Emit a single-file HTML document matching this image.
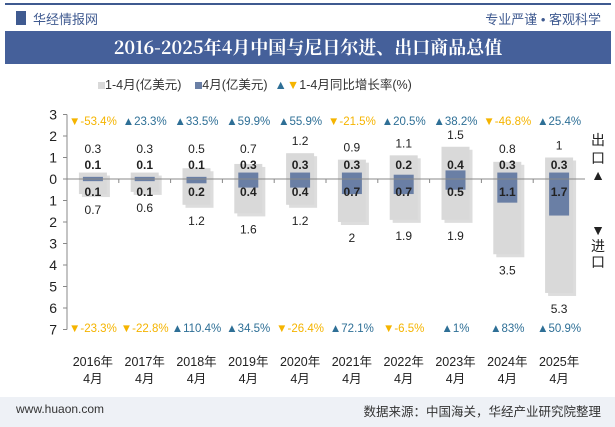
<!DOCTYPE html>
<html><head><meta charset="utf-8"><style>
body{margin:0;width:615px;height:427px;overflow:hidden;background:#fff;font-family:"Liberation Sans","Noto Sans CJK SC",sans-serif;position:relative}
.abs{position:absolute}
</style></head><body>
<div class="abs" style="left:5px;top:3px;width:606px;height:2px;background:#3f5a90"></div>
<div class="abs" style="left:16px;top:11px;width:10px;height:14px;background:#3f5a90"></div>
<div class="abs" style="left:33px;top:9px;font-size:13px;color:#3f5a90">华经情报网</div>
<div class="abs" style="right:14px;top:9px;font-size:13px;color:#3f5a90">专业严谨 • 客观科学</div>
<div class="abs" style="left:5px;top:31px;width:606px;height:33px;background:#45609a;color:#fff;font-family:'Noto Serif CJK SC','Liberation Serif',serif;font-weight:bold;font-size:18px;line-height:33px;text-align:center">2016-2025年4月中国与尼日尔进、出口商品总值</div>
<div class="abs" style="left:98px;top:74px;font-size:12.5px;color:#333;white-space:nowrap">
<span style="display:inline-block;width:7px;height:7px;background:#d9d9d9"></span>1-4月(亿美元) &nbsp;&nbsp;
<span style="display:inline-block;width:7px;height:7px;background:#6a7fa5"></span>4月(亿美元) &nbsp;<span style="color:#2e6f96">▲</span><span style="color:#f5b400">▼</span>1-4月同比增长率(%)</div>
<svg class="abs" style="left:0;top:0" width="615" height="427" id="chart"></svg>
<div class="abs" style="left:0;top:397px;width:615px;height:30px;background:#eef1f6"></div>
<div class="abs" style="left:16px;top:402px;font-size:12px;color:#333">www.huaon.com</div>
<div class="abs" style="right:14px;top:401px;font-size:12.5px;color:#333">数据来源：中国海关，华经产业研究院整理</div>
<script>
const years=["2016年","2017年","2018年","2019年","2020年","2021年","2022年","2023年","2024年","2025年"];
const exportYtd=[0.3,0.3,0.5,0.7,1.2,0.9,1.1,1.5,0.8,1];
const importYtd=[0.7,0.6,1.2,1.6,1.2,2,1.9,1.9,3.5,5.3];
const exportApr=[0.1,0.1,0.1,0.3,0.3,0.3,0.2,0.4,0.3,0.3];
const importApr=[0.1,0.1,0.2,0.4,0.4,0.7,0.7,0.5,1.1,1.7];
const exportGrowth=[-53.4,23.3,33.5,59.9,55.9,-21.5,20.5,38.2,-46.8,25.4];
const importGrowth=[-23.3,-22.8,110.4,34.5,-26.4,72.1,-6.5,1,83,50.9];
const yTicks=[3,2,1,0,1,2,3,4,5,6,7];
const svg=document.getElementById('chart');const NS='http://www.w3.org/2000/svg';
const y0=179,unit=21.5,x0=67,step=51.8;
const yPos=v=>y0-v*unit; const xC=i=>x0+step*(i+0.5);
function mk(t,a,txt){const e=document.createElementNS(NS,t);for(const k in a)e.setAttribute(k,a[k]);if(txt!=null)e.textContent=txt;svg.appendChild(e);return e;}
let ax=mk('line',{x1:x0,y1:yPos(3),x2:x0,y2:yPos(-7),stroke:'#888'});

yTicks.forEach((t,k)=>{const v=k<=3?3-k:-(k-3);const y=yPos(v);
let tl=mk('text',{x:x0-10,y:y+5,'text-anchor':'end','font-size':14,fill:'#222'},t);

mk('line',{x1:x0-4,y1:y,x2:x0,y2:y,stroke:'#888'});});
years.forEach((yr,i)=>{const c=xC(i);
mk('rect',{x:c-14+3,y:yPos(exportYtd[i])+3,width:28,height:(exportYtd[i]+importYtd[i])*unit,fill:'#bbb',opacity:0.5});
let g=mk('rect',{x:c-14,y:yPos(exportYtd[i]),width:28,height:(exportYtd[i]+importYtd[i])*unit,fill:'#d9d9d9'});

let b=mk('rect',{x:c-10,y:yPos(exportApr[i]),width:20,height:(exportApr[i]+importApr[i])*unit,fill:'#6a7fa5'});

mk('text',{x:c,y:Math.min(149,yPos(exportYtd[i])-12)+4,'text-anchor':'middle','font-size':12,fill:'#222'},exportYtd[i]);
mk('text',{x:c,y:yPos(-importYtd[i])+20,'text-anchor':'middle','font-size':12,fill:'#222'},importYtd[i]);
mk('text',{x:c,y:169,'text-anchor':'middle','font-size':12,'font-weight':'bold',fill:'#222'},exportApr[i]);
mk('text',{x:c,y:196,'text-anchor':'middle','font-size':12,'font-weight':'bold',fill:'#222'},importApr[i]);
[[exportGrowth[i],125],[importGrowth[i],332]].forEach(([g2,yy])=>{const up=g2>=0;
let t=mk('text',{x:c,y:yy,'text-anchor':'middle','font-size':11.5,fill:up?'#2e6f96':'#f5b400'},(up?'▲':'▼')+g2+'%');
});
let xl=mk('text',{x:c,y:366,'text-anchor':'middle','font-size':12.5,fill:'#222'},yr);

mk('text',{x:c,y:383,'text-anchor':'middle','font-size':12.5,fill:'#222'},'4月');
if(i<9)mk('line',{x1:x0+step*(i+1),y1:y0,x2:x0+step*(i+1),y2:y0+4,stroke:'#888'});});
let z=mk('line',{x1:x0,y1:y0,x2:x0+step*10,y2:y0,stroke:'#888'});

[['出',145,'#222'],['口',163,'#222'],['▲',180,'#222'],['▼',235,'#222'],['进',251,'#222'],['口',267,'#222']].forEach(([t,y,c])=>mk('text',{x:598,y:y,'text-anchor':'middle','font-size':14,fill:c},t));
</script>
</body></html>
